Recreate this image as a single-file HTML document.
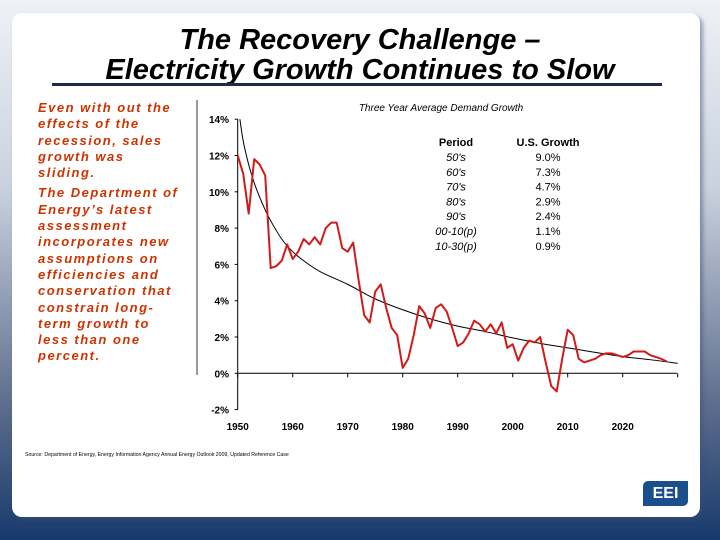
<!DOCTYPE html>
<html><head><meta charset="utf-8"><style>
body{margin:0;width:720px;height:540px;overflow:hidden;font-family:"Liberation Sans",sans-serif;
background:linear-gradient(180deg,#eef1f5 0%,#c9d1de 35%,#5d6d8d 75%,#173a6c 100%);position:relative}
#panel{position:absolute;left:12px;top:13px;width:688px;height:504px;background:#fff;border-radius:10px;box-shadow:3px 3px 4px rgba(60,80,120,.5)}
.t{position:absolute;white-space:nowrap}
</style></head><body>
<div id="panel"></div>
<div class="t" style="left:0;width:720px;text-align:center;top:26px;font:italic bold 29px/29px 'Liberation Sans',sans-serif;color:#000">The Recovery Challenge –</div>
<div class="t" style="left:0;width:720px;text-align:center;top:56px;font:italic bold 29px/29px 'Liberation Sans',sans-serif;color:#000">Electricity Growth Continues to Slow</div>
<div style="position:absolute;left:52px;top:83px;width:610px;height:3px;background:#1c2c48"></div>
<div style="position:absolute;left:196px;top:100px;width:2px;height:275px;background:#999"></div>
<div style="position:absolute;left:38px;top:100px;white-space:nowrap;font:italic bold 13px/16.3px 'Liberation Sans',sans-serif;letter-spacing:1.5px;color:#cc3300">
<div style="margin-bottom:4px">Even with out the<br>effects of the<br>recession, sales<br>growth was<br>sliding.</div>
<div>The Department of<br>Energy’s latest<br>assessment<br>incorporates new<br>assumptions on<br>efficiencies and<br>conservation that<br>constrain long-<br>term growth to<br>less than one<br>percent.</div></div>
<div class="t" style="left:25px;top:452px;font:5.2px 'Liberation Sans',sans-serif;color:#000">Source: Department of Energy, Energy Information Agency Annual Energy Outlook 2009, Updated Reference Case</div>
<div style="position:absolute;left:643px;top:481px;width:45px;height:25px;background:#1b4f8c;border-radius:5px 0 5px 0;color:#fff;font:bold 16px/25px 'Liberation Sans',sans-serif;text-align:center">EEI</div>
<svg id="chart" width="720" height="540" style="position:absolute;left:0;top:0"></svg>
<script>
const years=[];for(let y=1950;y<=2028;y++)years.push(y);
const growth=[12.0,11.0,8.8,11.8,11.5,10.9,5.8,5.9,6.2,7.1,6.3,6.7,7.4,7.1,7.5,7.1,8.0,8.3,8.3,6.9,6.7,7.2,5.1,3.2,2.8,4.5,4.9,3.6,2.5,2.1,0.3,0.8,2.1,3.7,3.3,2.5,3.6,3.8,3.4,2.5,1.5,1.7,2.2,2.9,2.7,2.3,2.7,2.2,2.8,1.4,1.6,0.7,1.4,1.8,1.7,2.0,0.6,-0.7,-1.0,0.8,2.4,2.1,0.8,0.6,0.7,0.8,1.0,1.1,1.1,1.0,0.9,1.0,1.2,1.2,1.2,1.0,0.9,0.8,0.65];
const trendYears=[1950.4,1951,1952,1953,1954,1955,1956,1958,1960,1962,1965,1970,1975,1980,1985,1990,1995,2000,2005,2010,2015,2020,2025,2030];
const trendVals=[14,12.8,11.5,10.5,9.7,9.0,8.4,7.4,6.7,6.2,5.6,4.9,4.1,3.5,3.0,2.6,2.3,1.95,1.65,1.4,1.15,0.92,0.75,0.55];
const yTicks=[-2,0,2,4,6,8,10,12,14];
const xTicks=[1950,1960,1970,1980,1990,2000,2010,2020];
const periods=["50's","60's","70's","80's","90's","00-10(p)","10-30(p)"];
const periodGrowth=["9.0%","7.3%","4.7%","2.9%","2.4%","1.1%","0.9%"];
const X=y=>237.7+(y-1950)*5.5, Y=v=>373.3-v*18.15;
const svg=document.getElementById('chart'),NS='http://www.w3.org/2000/svg';
function mk(t,a,txt){const e=document.createElementNS(NS,t);for(const k in a)e.setAttribute(k,a[k]);if(txt!=null)e.textContent=txt;svg.appendChild(e);return e;}
function smooth(px){let d='M'+px[0][0]+','+px[0][1];for(let i=0;i<px.length-1;i++){const p0=px[i-1]||px[i],p1=px[i],p2=px[i+1],p3=px[i+2]||p2;
d+=' C'+(p1[0]+(p2[0]-p0[0])/6)+','+(p1[1]+(p2[1]-p0[1])/6)+' '+(p2[0]-(p3[0]-p1[0])/6)+','+(p2[1]-(p3[1]-p1[1])/6)+' '+p2[0]+','+p2[1];}return d;}
let e;
e=mk('line',{x1:X(1950),y1:Y(14),x2:X(1950),y2:Y(-2),stroke:'#000','stroke-width':1});

e=mk('line',{x1:X(1950),y1:Y(0),x2:677,y2:Y(0),stroke:'#000','stroke-width':1});

yTicks.forEach(v=>{
 e=mk('line',{x1:X(1950)-3,y1:Y(v),x2:X(1950),y2:Y(v),stroke:'#000'});
 
 e=mk('text',{x:229,y:Y(v)+4,'text-anchor':'end','font-size':10,'font-weight':'bold','font-family':'Liberation Sans'},v+'%');
 
});
xTicks.concat([2030]).forEach(v=>{
 e=mk('line',{x1:X(v),y1:Y(0),x2:X(v),y2:Y(0)+4,stroke:'#000'});
 
});
xTicks.forEach(v=>{
 e=mk('text',{x:X(v),y:430,'text-anchor':'middle','font-size':10,'font-weight':'bold','font-family':'Liberation Sans'},v);
 
});
e=mk('text',{x:441,y:111,'text-anchor':'middle','font-size':10,'font-style':'italic','font-family':'Liberation Sans'},'Three Year Average Demand Growth');

e=mk('path',{d:smooth(trendYears.map((y,i)=>[X(y),Y(trendVals[i])])),fill:'none',stroke:'#000','stroke-width':1});

e=mk('polyline',{points:years.map((y,i)=>X(y)+','+Y(growth[i])).join(' '),fill:'none',stroke:'#d11a1a','stroke-width':2,'stroke-linejoin':'round'});

e=mk('text',{x:456,y:146,'text-anchor':'middle','font-size':11,'font-weight':'bold','font-family':'Liberation Sans'},'Period');

e=mk('text',{x:548,y:146,'text-anchor':'middle','font-size':11,'font-weight':'bold','font-family':'Liberation Sans'},'U.S. Growth');

periods.forEach((p,i)=>{
 e=mk('text',{x:456,y:161+i*14.8,'text-anchor':'middle','font-size':11,'font-style':'italic','font-family':'Liberation Sans'},p);
 
 e=mk('text',{x:548,y:161+i*14.8,'text-anchor':'middle','font-size':11,'font-family':'Liberation Sans'},periodGrowth[i]);
 
});
</script>
</body></html>
